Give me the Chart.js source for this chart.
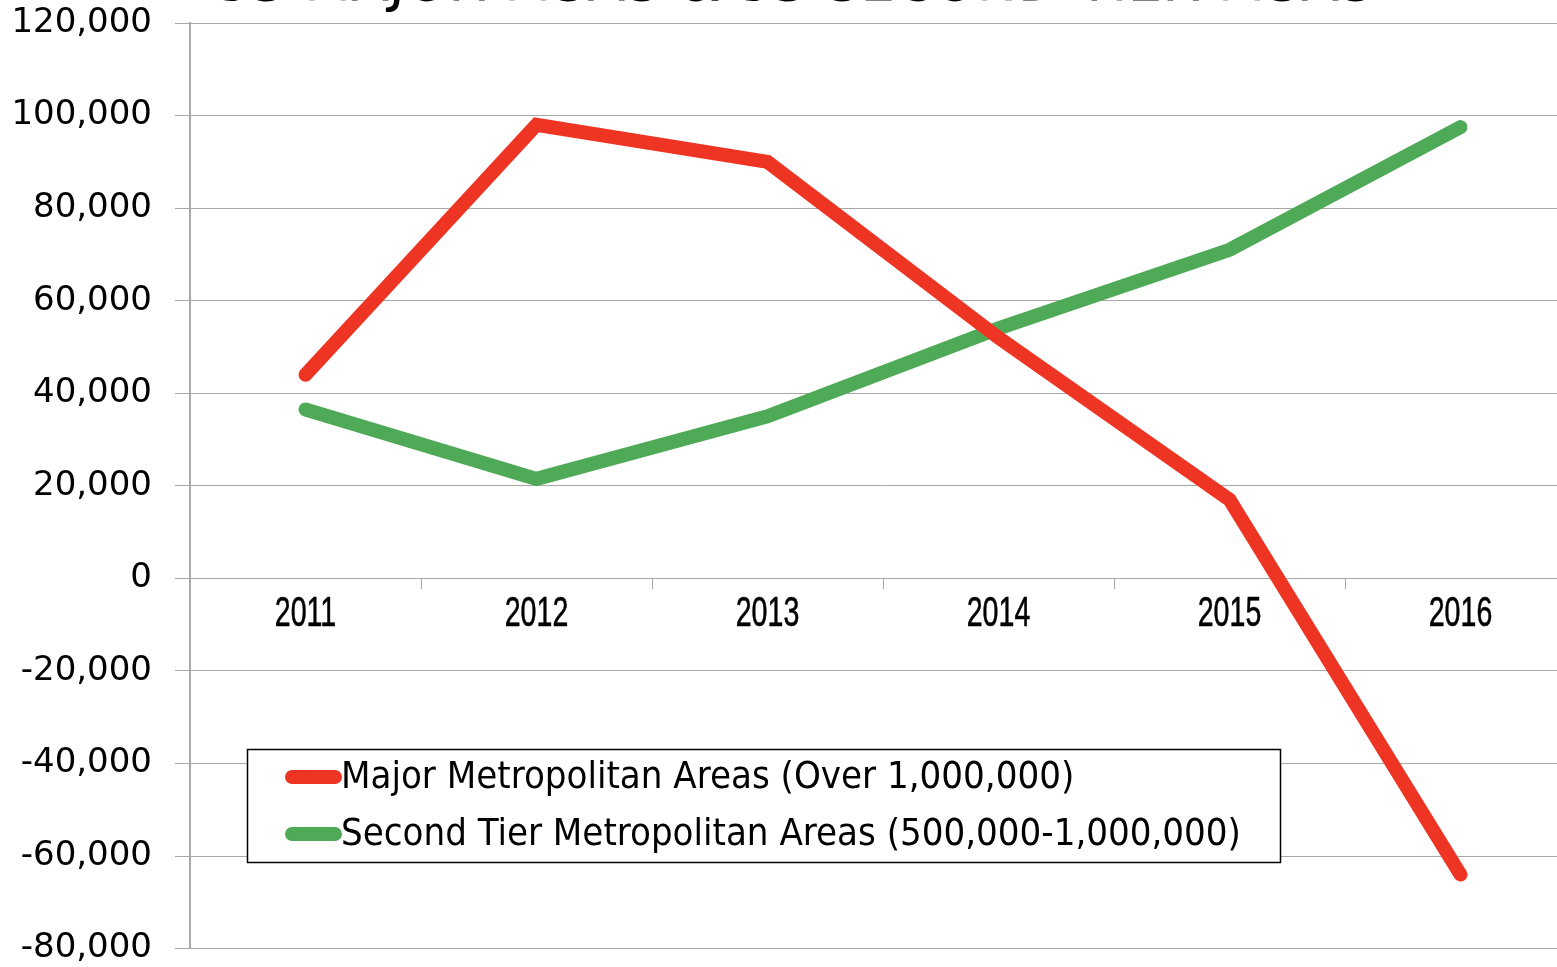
<!DOCTYPE html>
<html>
<head>
<meta charset="utf-8">
<script src="https://cdn.jsdelivr.net/npm/chart.js@4.4.1/dist/chart.umd.min.js"></script>
<style>
  html, body { margin: 0; padding: 0; background: #fff; overflow: hidden; width: 1557px; height: 967px; }
  #wrap { position: absolute; left: 0; top: -60px; width: 1600px; height: 1052px; }
</style>
</head>
<body>
<div id="wrap"><canvas id="c" width="1600" height="1052"></canvas></div>
<script>
const titleText = "53 MAJOR MSAS & 53 SECOND TIER MSAS";
const years = ["2011", "2012", "2013", "2014", "2015", "2016"];
const majorLabel = "Major Metropolitan Areas (Over 1,000,000)";
const secondLabel = "Second Tier Metropolitan Areas (500,000-1,000,000)";
const majorValues = [44000, 98000, 90000, 52000, 17000, -64000];
const secondValues = [36500, 21500, 35000, 54000, 71000, 97500];
const yMin = -80000, yMax = 120000, yStep = 20000;

const RED = "#ee3524";
const GREEN = "#4faa57";
const GRID = "#a8a8a8";
const OFF = 60; // canvas vertical offset

// condensed x-axis labels drawn at the category scale's own tick positions
const narrowXLabels = {
  id: "narrowXLabels",
  afterDraw(chart) {
    const ctx = chart.ctx;
    const xs = chart.scales.x;
    const ys = chart.scales.y;
    const baseY = ys.getPixelForValue(0);
    ctx.save();
    ctx.fillStyle = "#000";
    ctx.strokeStyle = "#000";
    ctx.lineWidth = 0.6;
    ctx.font = "42px 'Liberation Sans', Arial, sans-serif";
    ctx.textAlign = "center";
    ctx.textBaseline = "middle";
    chart.data.labels.forEach((lab, i) => {
      const px = xs.getPixelForTick(i);
      ctx.save();
      ctx.translate(px, baseY + 36);
      ctx.scale(0.68, 1);
      ctx.fillText(lab, 0, 0);
      ctx.strokeText(lab, 0, 0);
      ctx.restore();
    });
    ctx.restore();
  }
};

const boxLegend = {
  id: "boxLegend",
  afterDraw(chart) {
    const ctx = chart.ctx;
    const x0 = 247.5, y0 = 749.5 + OFF, w = 1033, h = 113;
    ctx.save();
    ctx.fillStyle = "#fff";
    ctx.fillRect(x0, y0, w, h);
    ctx.strokeStyle = "#000";
    ctx.lineWidth = 1.5;
    ctx.strokeRect(x0, y0, w, h);
    const rows = [[777, 0], [834, 1]];
    rows.forEach(([yy, i]) => {
      const ds = chart.data.datasets[i];
      const y = yy + OFF;
      ctx.strokeStyle = ds.borderColor;
      ctx.lineWidth = 14;
      ctx.lineCap = "round";
      ctx.beginPath();
      ctx.moveTo(292, y);
      ctx.lineTo(335, y);
      ctx.stroke();
      ctx.fillStyle = "#000";
      ctx.font = "38px 'DejaVu Sans Condensed', sans-serif";
      ctx.textBaseline = "middle";
      ctx.textAlign = "left";
      ctx.fillText(ds.label, 341, y + 1);
    });
    ctx.restore();
  }
};

new Chart(document.getElementById("c"), {
  type: "line",
  data: {
    labels: years,
    datasets: [
      { label: majorLabel, data: majorValues, borderColor: RED, backgroundColor: RED,
        borderWidth: 14, borderCapStyle: "round", pointRadius: 0, tension: 0, fill: false },
      { label: secondLabel, data: secondValues, borderColor: GREEN, backgroundColor: GREEN,
        borderWidth: 14, borderCapStyle: "round", pointRadius: 0, tension: 0, fill: false }
    ]
  },
  options: {
    responsive: false,
    animation: false,
    devicePixelRatio: 1,
    layout: { padding: { left: 14, right: 24, top: 0, bottom: 21 } },
    plugins: {
      legend: { display: false },
      tooltip: { enabled: false },
      title: {
        display: true, text: titleText, color: "#000",
        font: { family: "'DejaVu Sans', sans-serif", size: 55, weight: "normal" },
        padding: { top: 13, bottom: 4 }
      }
    },
    scales: {
      x: {
        type: "category",
        position: { y: 0 },
        offset: true,
        grid: { offset: true, drawOnChartArea: false, drawTicks: true, tickLength: 10, color: GRID, lineWidth: 1 },
        border: { display: true, color: GRID, width: 1 },
        ticks: { display: false }
      },
      y: {
        min: yMin, max: yMax,
        afterFit: (s) => { s.width = 176; },
        grid: { color: GRID, lineWidth: 1, drawTicks: true, tickLength: 15 },
        border: { display: true, color: GRID, width: 2 },
        ticks: { stepSize: yStep, color: "#000", padding: 23,
          font: { family: "'DejaVu Sans', sans-serif", size: 34 },
          callback: (v) => v.toLocaleString("en-US") }
      }
    }
  },
  plugins: [narrowXLabels, boxLegend]
});
</script>
</body>
</html>
